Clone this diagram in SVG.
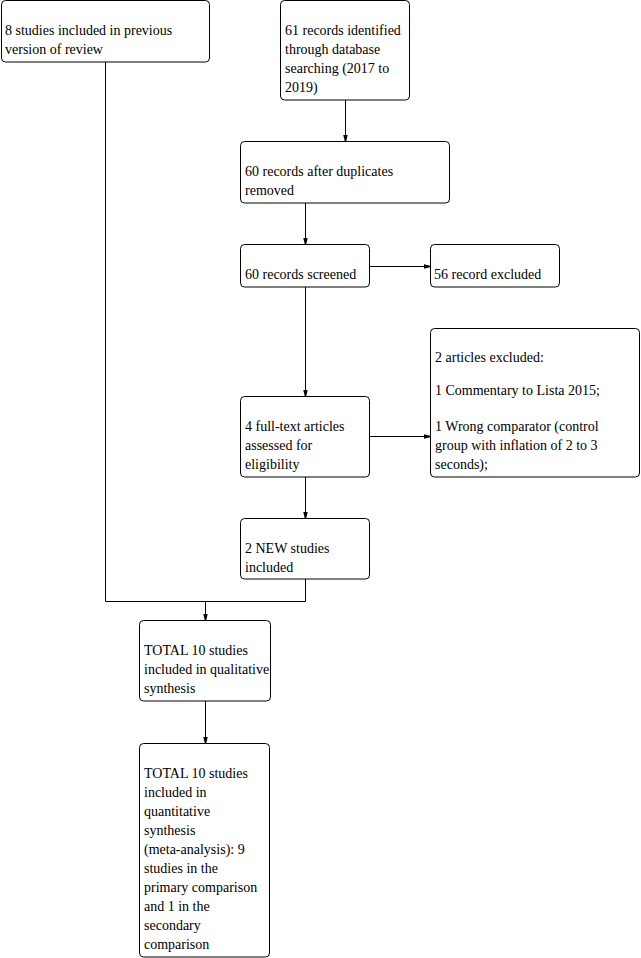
<svg xmlns="http://www.w3.org/2000/svg" width="641" height="958" viewBox="0 0 641 958">
<style>
.box{fill:#fff;stroke:#000;stroke-width:1}
.t{font-family:"Liberation Serif","Times New Roman",serif;font-size:14px;fill:#000}
.c{fill:none;stroke:#000;stroke-width:1}
</style>
<defs>
<marker id="ah" viewBox="0 0 6 6" refX="6" refY="3" markerWidth="6" markerHeight="6" markerUnits="userSpaceOnUse" orient="auto">
<path d="M0,0.8 L6,2.2 L6,3.8 L0,5.2 Z" fill="#000"/>
</marker>
</defs>
<rect width="641" height="958" fill="#fff"/>
<g id="connectors">
<line class="c" x1="345.5" y1="100" x2="345.5" y2="141" marker-end="url(#ah)"/>
<line class="c" x1="305.5" y1="203" x2="305.5" y2="244" marker-end="url(#ah)"/>
<line class="c" x1="369" y1="266.5" x2="430" y2="266.5" marker-end="url(#ah)"/>
<line class="c" x1="305.5" y1="287" x2="305.5" y2="396" marker-end="url(#ah)"/>
<line class="c" x1="369" y1="436.5" x2="430" y2="436.5" marker-end="url(#ah)"/>
<line class="c" x1="305.5" y1="477" x2="305.5" y2="518" marker-end="url(#ah)"/>
<polyline class="c" points="305.5,579 305.5,601.5 105.5,601.5 105.5,62"/>
<line class="c" x1="205.5" y1="601.5" x2="205.5" y2="620" marker-end="url(#ah)"/>
<line class="c" x1="205.5" y1="701" x2="205.5" y2="743" marker-end="url(#ah)"/>
</g>
<g id="n1"><rect class="box" x="1.5" y="0.5" width="208" height="61.5" rx="4"/>
<text class="t" x="5" y="35">8 studies included in previous</text>
<text class="t" x="5" y="54">version of review</text></g>
<g id="n2"><rect class="box" x="280.5" y="0.5" width="129" height="99.5" rx="4"/>
<text class="t" x="285" y="35">61 records identified</text>
<text class="t" x="285" y="54">through database</text>
<text class="t" x="285" y="73">searching (2017 to</text>
<text class="t" x="285" y="92">2019)</text></g>
<g id="n3"><rect class="box" x="240.5" y="141.5" width="209" height="61.5" rx="4"/>
<text class="t" x="245" y="176">60 records after duplicates</text>
<text class="t" x="245" y="195">removed</text></g>
<g id="n4"><rect class="box" x="240.5" y="244.5" width="129" height="42.5" rx="4"/>
<text class="t" x="245" y="279">60 records screened</text></g>
<g id="n5"><rect class="box" x="430.5" y="244.5" width="129" height="42.5" rx="4"/>
<text class="t" x="434" y="279">56 record excluded</text></g>
<g id="n6"><rect class="box" x="240.5" y="396.5" width="129" height="80.5" rx="4"/>
<text class="t" x="245" y="431">4 full-text articles</text>
<text class="t" x="245" y="450">assessed for</text>
<text class="t" x="245" y="469">eligibility</text></g>
<g id="n7"><rect class="box" x="430.5" y="328.5" width="209" height="148.5" rx="4"/>
<text class="t" x="435" y="362">2 articles excluded:</text>
<text class="t" x="435" y="395">1 Commentary to Lista 2015;</text>
<text class="t" x="435" y="431">1 Wrong comparator (control</text>
<text class="t" x="435" y="450">group with inflation of 2 to 3</text>
<text class="t" x="435" y="469">seconds);</text></g>
<g id="n8"><rect class="box" x="240.5" y="518.5" width="129" height="60.5" rx="4"/>
<text class="t" x="245" y="553">2 NEW studies</text>
<text class="t" x="245" y="572">included</text></g>
<g id="n9"><rect class="box" x="139.5" y="620.5" width="131" height="80.5" rx="4"/>
<text class="t" x="144" y="655">TOTAL 10 studies</text>
<text class="t" x="144" y="674">included in qualitative</text>
<text class="t" x="144" y="693">synthesis</text></g>
<g id="n10"><rect class="box" x="139.5" y="743.5" width="130" height="213.5" rx="4"/>
<text class="t" x="144" y="778">TOTAL 10 studies</text>
<text class="t" x="144" y="797">included in</text>
<text class="t" x="144" y="816">quantitative</text>
<text class="t" x="144" y="835">synthesis</text>
<text class="t" x="144" y="854">(meta-analysis): 9</text>
<text class="t" x="144" y="873">studies in the</text>
<text class="t" x="144" y="892">primary comparison</text>
<text class="t" x="144" y="911">and 1 in the</text>
<text class="t" x="144" y="930">secondary</text>
<text class="t" x="144" y="949">comparison</text></g>
</svg>
